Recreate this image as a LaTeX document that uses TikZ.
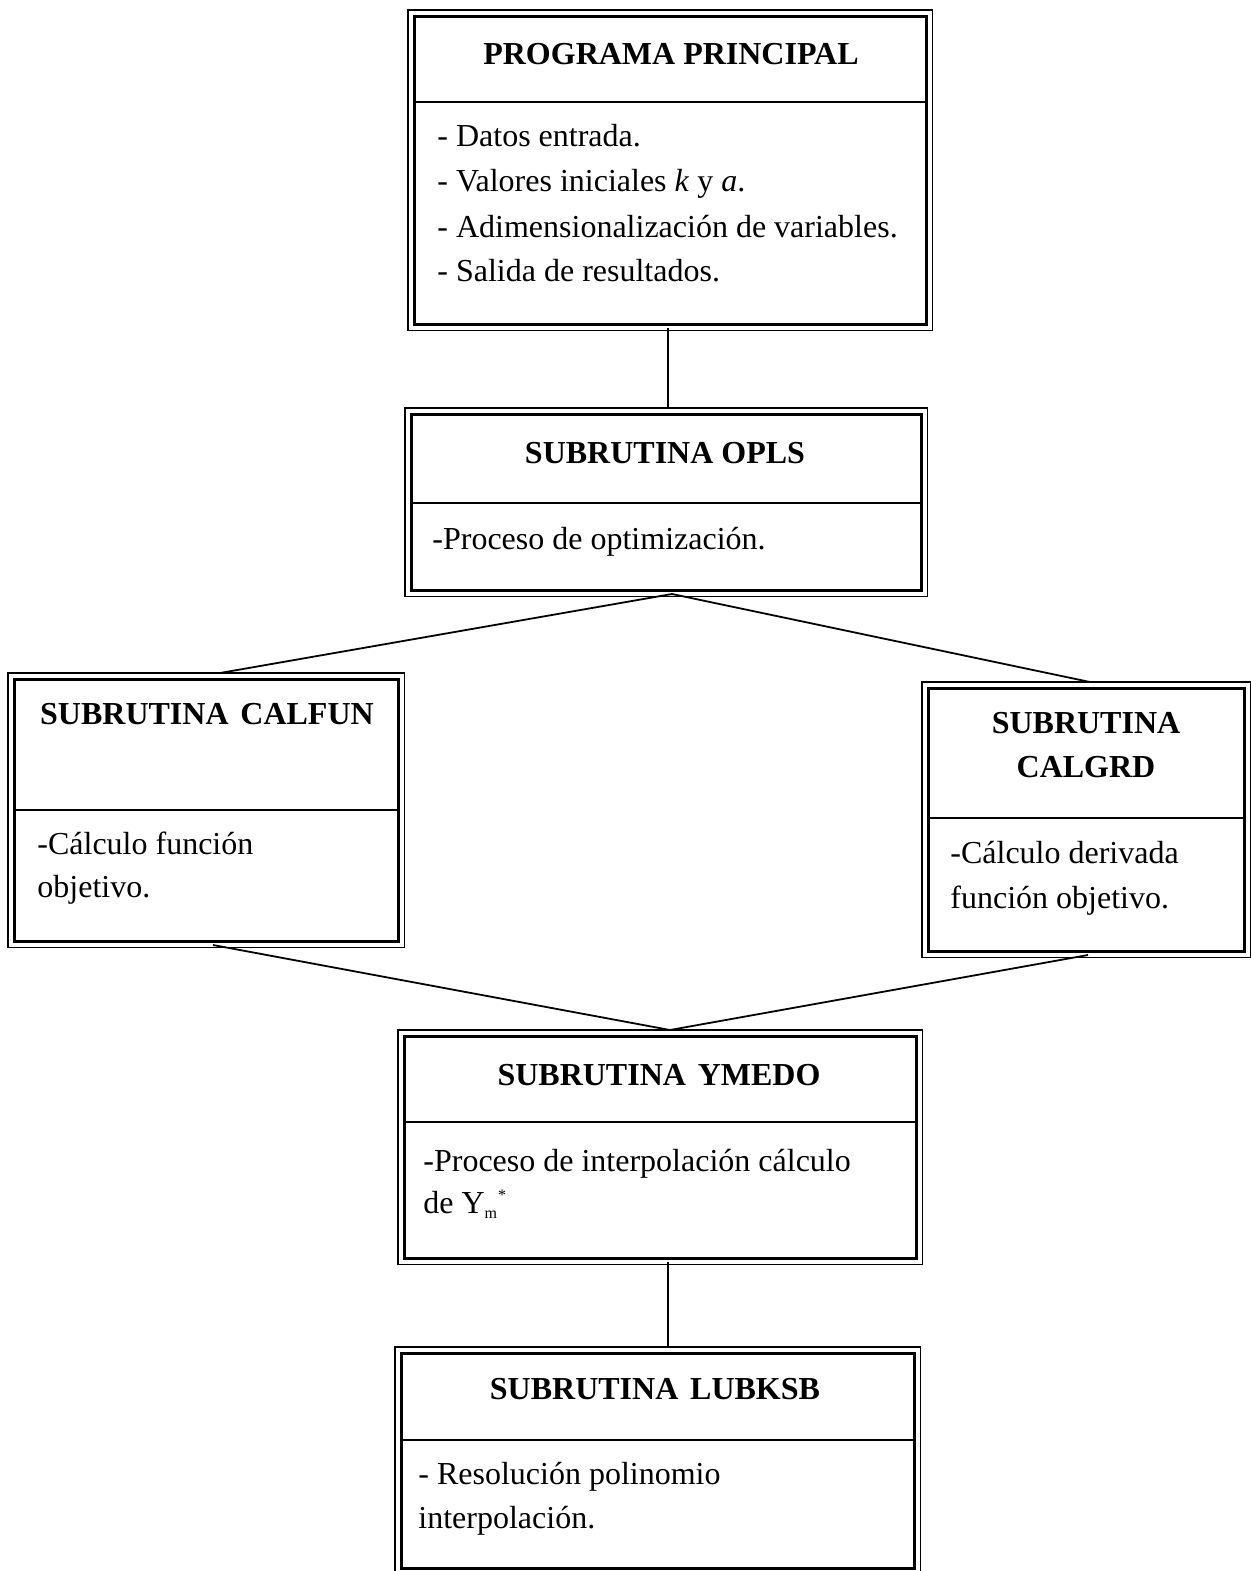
\documentclass[tikz,border=0pt]{standalone}
\usepackage{fontspec}
\setmainfont{Liberation Serif}
\tikzset{
  inbox/.style={draw, line width=1.3pt, anchor=north west, inner sep=0pt},
  outline/.style={draw, line width=0.8pt},
  divline/.style={line width=0.9pt},
  conn/.style={line width=0.9pt},
  ttl/.style={font=\fontsize{16}{18}\selectfont\bfseries, inner sep=0pt, anchor=base},
  bod/.style={font=\fontsize{16}{18}\selectfont, inner sep=0pt, anchor=base west},
}
\newcommand\mybx[6]{%
  \pgfmathsetmacro\bw{(#4-#2)*0.5}\pgfmathsetmacro\bh{(#5-#3)*0.5}%
  \node[inbox, minimum width=\bw pt, minimum height=\bh pt] (#1) at (#2,#3) {};
  \draw[outline] ([shift={(-5,-5)}]#1.north west) rectangle ([shift={(5,5)}]#1.south east);
  \draw[divline] (#1.west |- 0,#6) -- (#1.east |- 0,#6);
}
\newcommand\wsp{\ \hspace{0.12em}}
\begin{document}
\begin{tikzpicture}[x=0.5pt,y=-0.5pt]
\useasboundingbox (0,0) rectangle (1250,1571);
\fill[white] (0,0) rectangle (1250,1571);

\mybx{b1}{413}{15}{925}{323}{102}
\mybx{b2}{410}{413}{920}{589}{503}
\mybx{b3}{13}{678}{397}{940}{810}
\mybx{b4}{927}{687}{1243}{950}{818}
\mybx{b5}{403}{1035}{915}{1257}{1122}
\mybx{b6}{400}{1352}{913}{1567}{1440}

% texts
\node[ttl] (t1) at (671,64) {PROGRAMA PRINCIPAL};
\node[bod] (l11) at (437,146) {- Datos entrada.};
\node[bod] (l12) at (437,191) {- Valores iniciales \textit{k} y \textit{a}.};
\node[bod] (l13) at (437,237) {- Adimensionalización de variables.};
\node[bod] (l14) at (437,281) {- Salida de resultados.};

\node[ttl] (t2) at (665,463) {SUBRUTINA OPLS};
\node[bod] (l21) at (432,549) {-Proceso de optimización.};

\node[ttl] (t3) at (207,724) {SUBRUTINA\wsp CALFUN};
\node[bod] (l31) at (37,854) {-Cálculo función};
\node[bod] (l32) at (37,897) {objetivo.};

\node[ttl] (t4a) at (1086,733) {SUBRUTINA};
\node[ttl] (t4b) at (1086,777) {CALGRD};
\node[bod] (l41) at (950,863) {-Cálculo derivada};
\node[bod] (l42) at (950,908) {función objetivo.};

\node[ttl] (t5) at (659,1085) {SUBRUTINA\wsp YMEDO};
\node[bod] (l51) at (423,1171) {-Proceso de interpolación cálculo};
\node[bod] (l52) at (423,1213) {de Y\textsubscript{\footnotesize m}\textsuperscript{\footnotesize *}};

\node[ttl] (t6) at (655,1399) {SUBRUTINA\wsp LUBKSB};
\node[bod] (l61) at (418,1484) {- Resolución polinomio};
\node[bod] (l62) at (418,1528) {interpolación.};

% connectors
\coordinate (p1) at (668,328);
\coordinate (p2t) at (668,408);
\draw[conn] (p1) -- (p2t);

\coordinate (p2) at (672,594);
\coordinate (p3t) at (220,673);
\coordinate (p4t) at (1090,682);
\draw[conn] (p3t) -- (p2) -- (p4t);

\coordinate (p3b) at (213,945);
\coordinate (p4b) at (1088,955);
\coordinate (p5t) at (670,1030);
\draw[conn] (p3b) -- (p5t) -- (p4b);

\coordinate (p5b) at (668,1262);
\coordinate (p6t) at (668,1347);
\draw[conn] (p5b) -- (p6t);
\end{tikzpicture}
\end{document}
